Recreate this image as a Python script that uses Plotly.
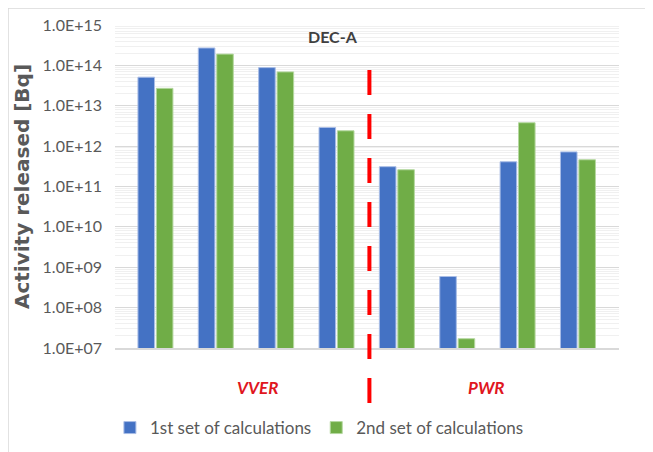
import plotly.graph_objects as go

# cases, 4 VVER then 4 PWR
cases = ["VVER-1", "VVER-2", "VVER-3", "VVER-4", "PWR-1", "PWR-2", "PWR-3", "PWR-4"]
set1 = [5.1e13, 2.7e14, 8.8e13, 2.9e12, 3.1e11, 5.9e8, 4.1e11, 7.2e11]
set2 = [2.7e13, 1.9e14, 6.9e13, 2.4e12, 2.6e11, 1.7e7, 3.8e12, 4.6e11]
tick_vals = [1e7, 1e8, 1e9, 1e10, 1e11, 1e12, 1e13, 1e14, 1e15]
tick_text = ["1.0E+07", "1.0E+08", "1.0E+09", "1.0E+10", "1.0E+11",
             "1.0E+12", "1.0E+13", "1.0E+14", "1.0E+15"]

grey = "#595959"
fnt = "Lato"

fig = go.Figure()
fig.add_trace(go.Bar(x=cases, y=set1, name="1st set of calculations",
                     marker=dict(color="#4472C4", line=dict(color="#a9bde6", width=1))))
fig.add_trace(go.Bar(x=cases, y=set2, name="2nd set of calculations",
                     marker=dict(color="#70AD47", line=dict(color="#b5d8a0", width=1))))

# page body has an 8px margin, so the figure is 8px smaller on each axis
fig.update_layout(
    width=645, height=444,
    margin=dict(l=107, r=34, t=17, b=104),
    paper_bgcolor="white", plot_bgcolor="white",
    barmode="group", bargap=0.39, bargroupgap=0.1,
    font=dict(family=fnt, color=grey),
    showlegend=True,
    legend=dict(orientation="h", xref="container", yref="container",
                x=0.158, xanchor="left", y=0.054, yanchor="middle",
                font=dict(size=17, color=grey), itemwidth=30, traceorder="normal"),
)
fig.update_xaxes(type="category", range=[-0.67, 7.68], showticklabels=False,
                 showgrid=False, zeroline=False, showline=True, linecolor="#d9d9d9",
                 linewidth=1.5, automargin=False)
fig.update_yaxes(type="log", range=[7, 15], tickvals=tick_vals, ticktext=tick_text,
                 tickfont=dict(size=16, color=grey), ticks="", ticklabelstandoff=12,
                 showgrid=True, gridcolor="#d9d9d9", gridwidth=1,
                 minor=dict(showgrid=True, gridcolor="#f0f0f0", dtick="D1", ticks=""),
                 showline=False, zeroline=False, automargin=False,
                 title=dict(text="<b>Activity released [Bq]</b>",
                            font=dict(size=20, color=grey, family="DejaVu Sans"),
                            standoff=7))

# separator between VVER and PWR
fig.add_shape(type="line", xref="x", yref="paper", x0=3.545, x1=3.545, y0=0.861, y1=-0.17,
              line=dict(color="#ff0000", width=4, dash="25px,19px"))

fig.add_annotation(text="<b>DEC-A</b>", xref="paper", yref="paper", x=0.432, y=0.963,
                   xanchor="center", yanchor="middle",
                   showarrow=False, font=dict(size=16, color="#404040"))
fig.add_annotation(text="<b><i>VVER</i></b>", xref="paper", yref="paper", x=0.283, y=-0.121,
                   xanchor="center", yanchor="middle",
                   showarrow=False, font=dict(size=17, color="#e0161e"))
fig.add_annotation(text="<b><i>PWR</i></b>", xref="paper", yref="paper", x=0.738, y=-0.121,
                   xanchor="center", yanchor="middle",
                   showarrow=False, font=dict(size=17, color="#e0161e"))

# outer frame (top and left edges only visible)
fig.add_shape(type="line", xref="paper", yref="paper", x0=-0.2123, x1=1.1, y0=1.0526, y1=1.0526,
              line=dict(color="#d9d9d9", width=1.5))
fig.add_shape(type="line", xref="paper", yref="paper", x0=-0.2123, x1=-0.2123, y0=1.0526, y1=-0.4,
              line=dict(color="#d9d9d9", width=1.5))

fig.write_html("out.html")
